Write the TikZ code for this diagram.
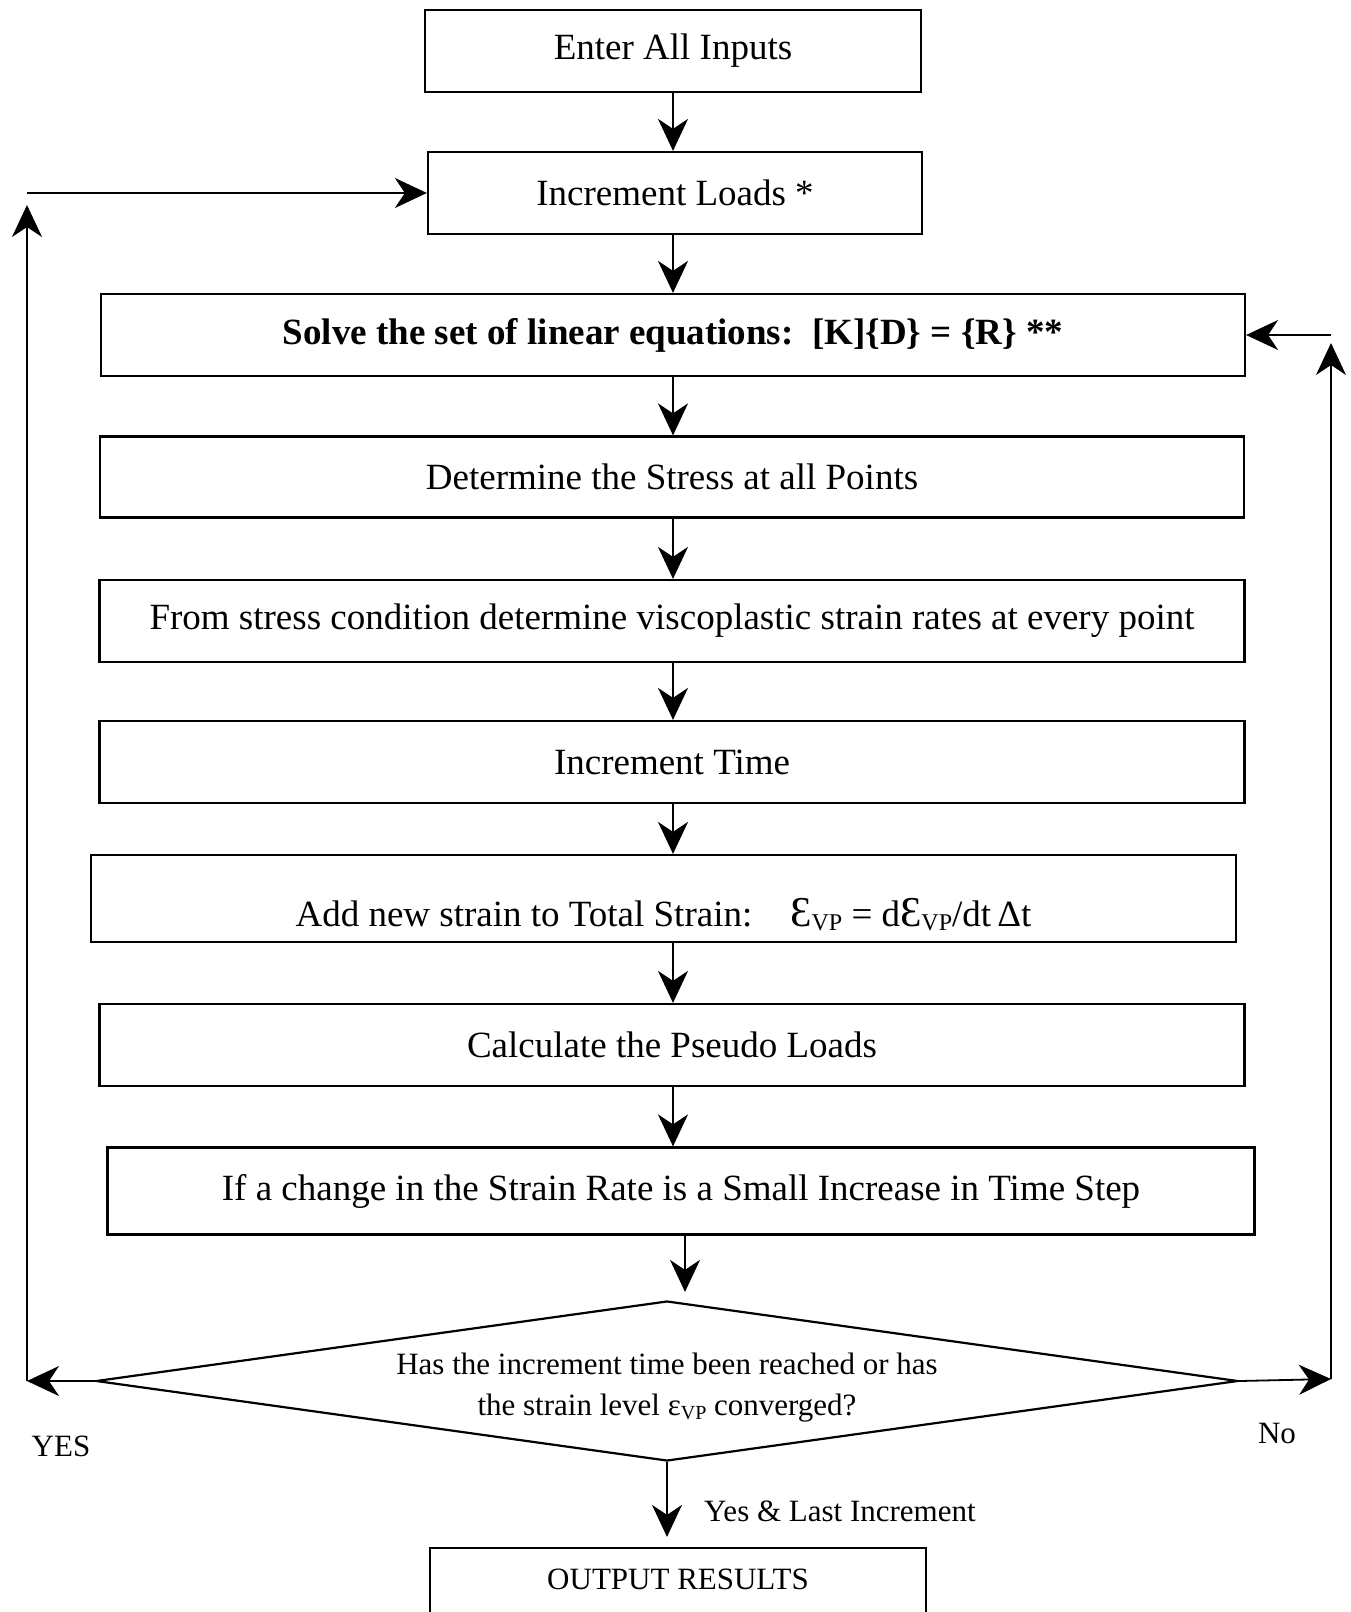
\documentclass[tikz,border=0pt]{standalone}
\usepackage{fontspec}
\setmainfont{Liberation Serif}
\usetikzlibrary{arrows.meta,shapes.geometric}
\newcommand{\vpbig}{\raisebox{-0.12em}{\fontsize{24}{24}\selectfont VP}}
\newcommand{\vpsmall}{\raisebox{-0.15em}{\fontsize{20}{20}\selectfont VP}}
\newcommand{\bigeps}{\scalebox{1.15}{Ɛ}}
\begin{document}
\begin{tikzpicture}[x=1pt,y=-1pt]
\tikzset{
  box/.style={draw, line width=2.2pt, rectangle, inner sep=0pt, font=\fontsize{37}{44}\selectfont},
  arr/.style={line width=1.8pt, -{Stealth[length=32pt,width=30pt,inset=10pt]}},
  lbl/.style={inner sep=0pt, font=\fontsize{31}{38}\selectfont},
}
\useasboundingbox (0,0) rectangle (1350,1612);
\clip (0,0) rectangle (1350,1612);
\fill[white] (0,0) rectangle (1350,1612);

\node[box, minimum width=496pt, minimum height=82pt] (b1) at (673,51) {Enter All Inputs};
\node[box, minimum width=494pt, minimum height=82pt] (b2) at (675,193) {Increment Loads *};
\node[box, minimum width=1144pt, minimum height=82pt, font=\fontsize{37}{44}\selectfont\bfseries] (b3) at (673,335) {Solve the set of linear equations:\ \ [K]\{D\} = \{R\} **};
\node[box, minimum width=1144pt, minimum height=81pt] (b4) at (672,477) {Determine the Stress at all Points};
\node[box, minimum width=1145pt, minimum height=82pt] (b5) at (672,621) {From stress condition determine viscoplastic strain rates at every point};
\node[box, minimum width=1145pt, minimum height=82pt] (b6) at (672,762) {Increment Time};
\node[box, minimum width=1145pt, text height=71pt, text depth=16pt] (b7) at (663.5,898.5) {Add new strain to Total Strain:\hspace{38pt}\bigeps\vpbig{} = d\bigeps\vpbig/dt\,Δt};
\node[box, minimum width=1145pt, minimum height=82pt] (b8) at (672,1045) {Calculate the Pseudo Loads};
\node[box, minimum width=1147pt, minimum height=87pt] (b9) at (681,1191) {If a change in the Strain Rate is a Small Increase in Time Step};

\node[draw, line width=2.2pt, diamond, shape aspect=7.14, inner sep=0pt, minimum width=1142pt, minimum height=160pt, align=center, font=\fontsize{31}{41}\selectfont] (dec) at (667,1381) {\rule{0pt}{34pt}Has the increment time been reached or has\\the strain level ε\vpsmall{} converged?};

\node[box, minimum width=496pt, text height=41pt, text depth=51pt, font=\fontsize{31}{38}\selectfont] (out) at (678,1594) {OUTPUT RESULTS};

\node[lbl] (yes) at (61,1446) {YES};
\node[lbl] (no) at (1277,1433) {No};
\node[lbl, anchor=west] (ylast) at (704,1511) {Yes \& Last Increment};

% main column
\coordinate (ax) at (673,0);
\coordinate (ax2) at (685,0);
\draw[arr] (b1.south -| ax) -- (b2.north -| ax);
\draw[arr] (b2.south -| ax) -- (b3.north -| ax);
\draw[arr] (b3.south -| ax) -- (b4.north -| ax);
\draw[arr] (b4.south -| ax) -- (b5.north -| ax);
\draw[arr] (b5.south -| ax) -- (b6.north -| ax);
\draw[arr] (b6.south -| ax) -- (b7.north -| ax);
\draw[arr] (b7.south -| ax) -- (b8.north -| ax);
\draw[arr] (b8.south -| ax) -- (b9.north -| ax);
\draw[arr, shorten >=8pt] (b9.south -| ax2) -- (dec.north -| ax2);
\draw[arr, shorten >=10pt] (dec.south) -- (dec.south |- out.north);

% YES loop
\coordinate (yl) at (27,1381);
\coordinate (ytip) at (27,205);
\draw[arr] (dec.west) -- (yl);
\draw[arr] (yl) -- (ytip);
\draw[arr] (b2.west -| yl) -- (b2.west);

% No loop
\coordinate (nr) at (1331,1379);
\coordinate (ntip) at (1331,343);
\draw[arr] (dec.east) -- (nr);
\draw[arr] (nr) -- (ntip);
\draw[arr] (b3.east -| nr) -- (b3.east);
\end{tikzpicture}
\end{document}
